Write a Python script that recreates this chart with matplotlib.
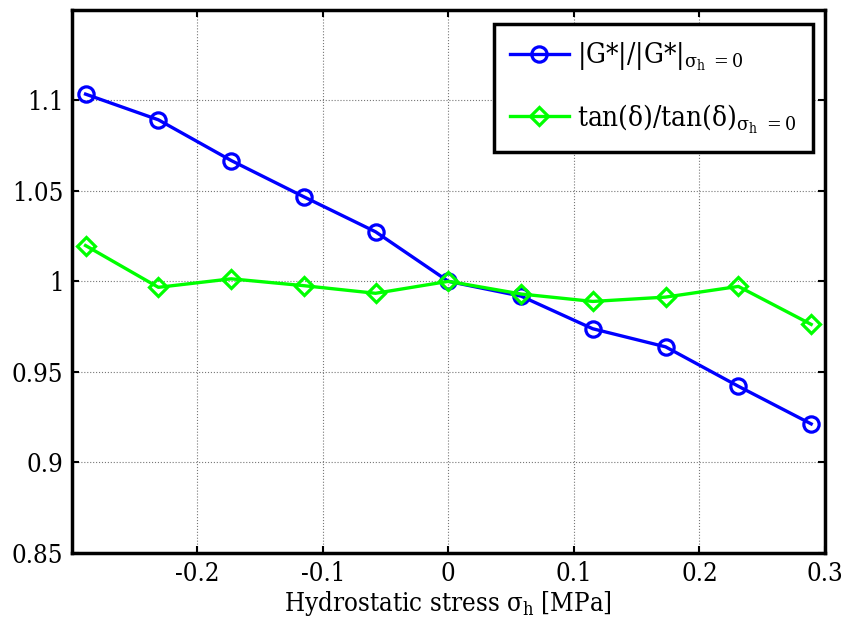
import numpy as np
import matplotlib
matplotlib.use('Agg')
import matplotlib.pyplot as plt

# hydrostatic stress points [MPa]
sigma_h = [-0.289, -0.231, -0.173, -0.115, -0.058, 0.0, 0.058, 0.115, 0.173, 0.231, 0.289]

# normalised modulus and loss factor
g_ratio = [1.1035, 1.0893, 1.0668, 1.0467, 1.0274, 1.0, 0.9918, 0.9738, 0.9638, 0.9420, 0.9212]
tan_ratio = [1.0198, 0.9967, 1.0014, 0.9976, 0.9934, 1.0, 0.9930, 0.9889, 0.9913, 0.9972, 0.9762]

x_ticks = [-0.2, -0.1, 0, 0.1, 0.2, 0.3]
x_tick_labels = ['-0.2', '-0.1', '0', '0.1', '0.2', '0.3']
y_ticks = [0.85, 0.9, 0.95, 1.0, 1.05, 1.1]
y_tick_labels = ['0.85', '0.9', '0.95', '1', '1.05', '1.1']


def main():
    plt.rcParams['font.family'] = ['DejaVu Serif', 'Liberation Serif']
    plt.rcParams['font.stretch'] = 'condensed'
    plt.rcParams['mathtext.default'] = 'regular'

    fig = plt.figure(figsize=(8.44, 6.29), dpi=100)
    ax = fig.add_axes([0.085, 0.1213, 0.8925, 0.8628])

    ax.plot(sigma_h, g_ratio, '-o', color=(0, 0, 1), lw=2.4, ms=11,
            mfc='none', mew=2.3, label='|G*|/|G*|$_{σ_{h}\\ = 0}$')
    ax.plot(sigma_h, tan_ratio, '-D', color=(0, 1, 0), lw=2.4, ms=9.5,
            mfc='none', mew=2.3, label='tan(δ)/tan(δ)$_{σ_{h}\\ = 0}$')

    ax.set_xlim(-0.3, 0.3)
    ax.set_ylim(0.85, 1.15)
    ax.set_xticks(x_ticks)
    ax.set_xticklabels(x_tick_labels)
    ax.set_yticks(y_ticks)
    ax.set_yticklabels(y_tick_labels)
    ax.tick_params(direction='in', length=5, width=1.5, labelsize=18.5,
                   top=True, right=True, pad=6)
    ax.grid(True, linestyle=':', color='#777777', linewidth=0.8)
    for s in ax.spines.values():
        s.set_linewidth(2.5)

    ax.set_xlabel('Hydrostatic stress σ$_{h}$ [MPa]', fontsize=18.5, labelpad=2)

    leg = ax.legend(loc='upper right', fontsize=20, fancybox=False,
                    framealpha=1, edgecolor='black', handlelength=2.1,
                    handletextpad=0.3, borderpad=0.6, labelspacing=1.05,
                    borderaxespad=0, bbox_to_anchor=(0.984, 0.975))
    leg.get_frame().set_linewidth(2.5)

    fig.savefig('out.png', dpi=100)


if __name__ == '__main__':
    main()
